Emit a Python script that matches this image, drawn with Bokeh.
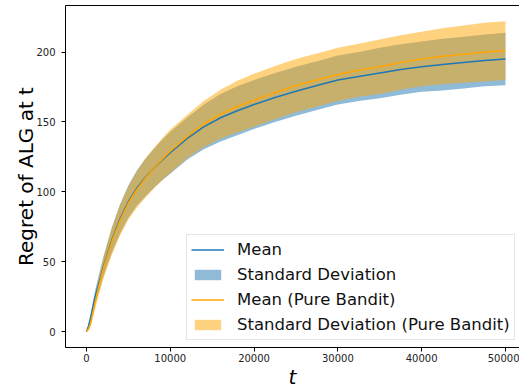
from bokeh.plotting import figure
from bokeh.models import (Range1d, Legend, LegendItem, FixedTicker, NumeralTickFormatter,
                          LinearAxis, ColumnDataSource)
from bokeh.embed import file_html
from bokeh.resources import INLINE

# ---- data ----
t = [0, 250, 500, 1000, 1500, 2000, 3000, 4000, 5000, 6000, 7000, 8000, 9000, 10000,
     12000, 14000, 16000, 18000, 20000, 22500, 25000, 27500, 30000, 32500, 35000,
     37500, 40000, 42500, 45000, 47500, 50000]
mean_alg = [0, 4, 10, 24, 35, 46, 65, 80.5, 93, 102.5, 110, 116.5, 122.5, 128,
            138, 146.5, 153, 158, 162.5, 167.5, 172, 176, 180, 182.5, 185,
            187.5, 189.5, 191, 192.5, 194, 195]
std_alg = [0, 1.5, 2.5, 4.5, 6, 7, 9, 10.5, 11.5, 12.5, 13.5, 14, 14.5, 15,
           15, 16, 17, 17.5, 17.5, 17.5, 17.5, 17.5, 17.5, 17.5, 18,
           18, 18, 18.5, 18.5, 18.5, 18.8]
mean_pb = [0, 2, 6, 20, 33, 45, 64, 79.5, 92, 101.5, 109.5, 116.5, 123, 129,
           139.5, 148.5, 155.5, 161, 165.5, 171, 176, 180, 184, 187, 189.5,
           192.5, 195, 197, 198.5, 200, 201]
std_pb = [0, 1.5, 2.5, 5, 6.5, 7.5, 9.5, 11, 12, 13, 14, 14.5, 15, 15.5,
          15.5, 16.5, 17.5, 18.5, 19, 19, 19, 19, 19, 19, 19.5,
          19.5, 19.5, 20, 20.5, 21, 21]
x_ticks = [0, 10000, 20000, 30000, 40000, 50000]
y_ticks = [0, 50, 100, 150, 200]
labels = ["Mean", "Standard Deviation", "Mean (Pure Bandit)", "Standard Deviation (Pure Bandit)"]

src = ColumnDataSource(dict(
    t=t, mean_alg=mean_alg, mean_pb=mean_pb,
    lo_alg=[m - s for m, s in zip(mean_alg, std_alg)],
    hi_alg=[m + s for m, s in zip(mean_alg, std_alg)],
    lo_pb=[m - s for m, s in zip(mean_pb, std_pb)],
    hi_pb=[m + s for m, s in zip(mean_pb, std_pb)],
))

BLUE = "#1f77b4"
ORANGE = "#ffa500"
FONT = "DejaVu Sans"

p = figure(width=519, height=391, output_backend="svg", toolbar_location=None,
           x_range=Range1d(-2500, 51677), y_range=Range1d(-11.4, 233.3),
           min_border_left=65, min_border_right=0, min_border_top=5, min_border_bottom=42)
p.grid.visible = False
p.outline_line_color = None
p.background_fill_color = "white"

b1 = p.varea(x="t", y1="lo_alg", y2="hi_alg", source=src, fill_color=BLUE, fill_alpha=0.5)
b2 = p.varea(x="t", y1="lo_pb", y2="hi_pb", source=src, fill_color=ORANGE, fill_alpha=0.5)
l1 = p.line("t", "mean_alg", source=src, line_color=BLUE, line_width=1.5)
l2 = p.line("t", "mean_pb", source=src, line_color=ORANGE, line_width=1.5)

for ax in (p.xaxis[0], p.yaxis[0]):
    ax.major_tick_in = 0
    ax.major_tick_out = 4
    ax.minor_tick_line_color = None
    ax.axis_line_color = "black"
    ax.axis_line_width = 1
    ax.major_tick_line_color = "black"
    ax.major_label_text_font = FONT
    ax.major_label_text_font_size = "10px"
    ax.major_label_text_color = "#222222"
    ax.axis_label_text_font = FONT
    ax.axis_label_text_font_size = "20px"
    ax.axis_label_text_color = "black"
    ax.axis_label_standoff = 0

p.xaxis.ticker = FixedTicker(ticks=x_ticks)
p.xaxis.formatter = NumeralTickFormatter(format="0")
p.xaxis.major_label_standoff = 2
p.xaxis.axis_label = "t"
p.xaxis.axis_label_text_font_style = "italic"

p.yaxis.ticker = FixedTicker(ticks=y_ticks)
p.yaxis.major_label_standoff = 6
p.yaxis.axis_label = "Regret of ALG at t"
p.yaxis.axis_label_text_font_style = "normal"
p.yaxis.axis_label_standoff = -5

top = LinearAxis(ticker=FixedTicker(ticks=[]), major_tick_line_color=None,
                 minor_tick_line_color=None, major_label_standoff=0,
                 major_tick_out=0, major_tick_in=0, axis_line_color="black",
                 axis_line_width=1)
p.add_layout(top, "above")

legend = Legend(items=[
    LegendItem(label=labels[0], renderers=[l1]),
    LegendItem(label=labels[1], renderers=[b1]),
    LegendItem(label=labels[2], renderers=[l2]),
    LegendItem(label=labels[3], renderers=[b2]),
], location=(121, 7))
legend.label_text_font = FONT
legend.label_text_font_size = "16.5px"
legend.label_text_color = "#111111"
legend.glyph_width = 33
legend.glyph_height = 13
legend.label_height = 21
legend.spacing = 4
legend.padding = 4
legend.margin = 0
legend.label_standoff = 13
legend.border_line_color = "#cccccc"
legend.border_line_width = 1
legend.background_fill_color = "white"
legend.background_fill_alpha = 0.8
p.add_layout(legend)

open("out.html", "w").write(file_html(p, INLINE))
